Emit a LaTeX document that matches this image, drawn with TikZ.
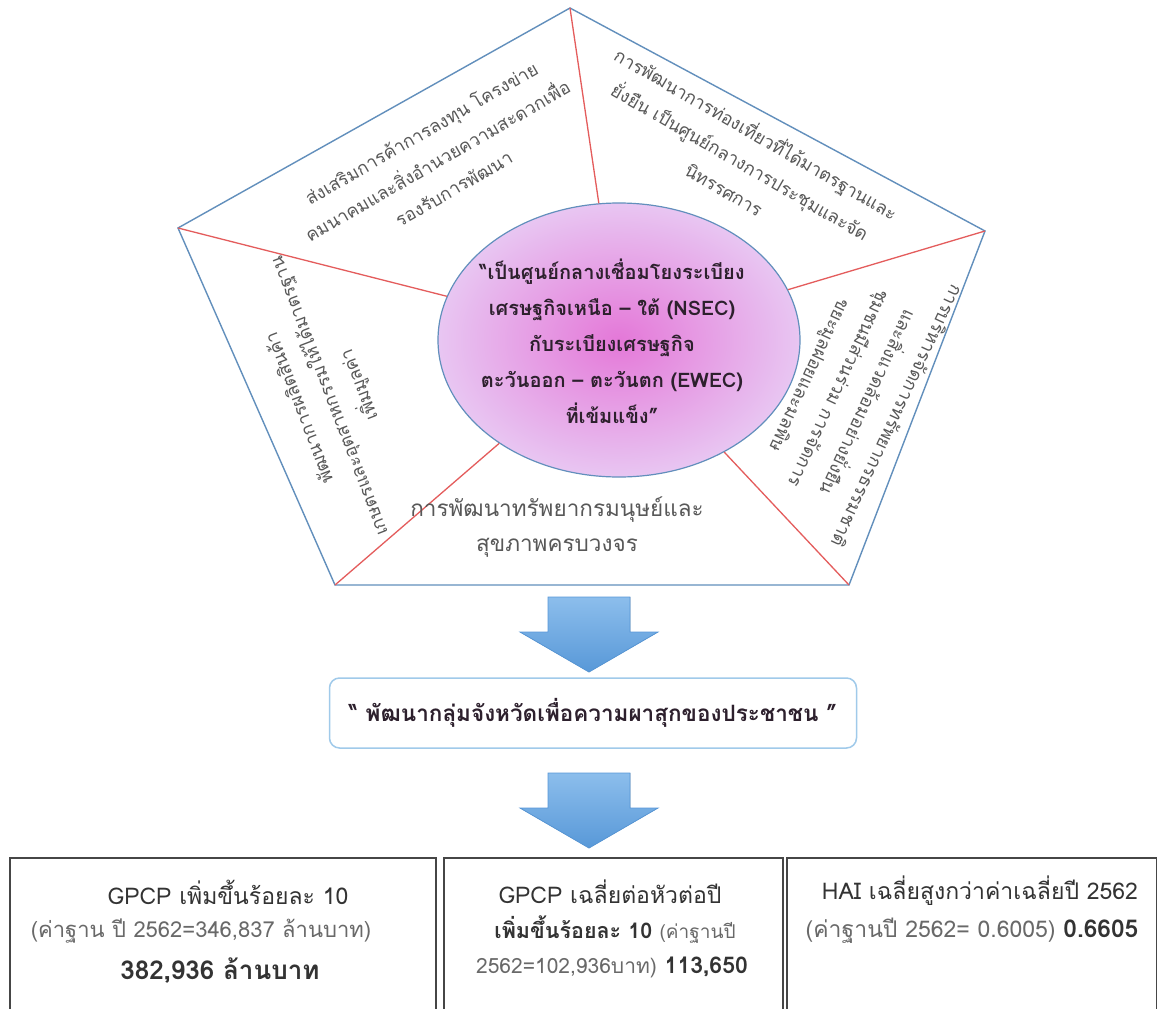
\documentclass[tikz,border=0pt]{standalone}
\usepackage{fontspec}
\setmainfont[Script=Thai]{Loma}
\usetikzlibrary{shapes.geometric}

\definecolor{rimblue}{RGB}{98,143,188}
\definecolor{spokered}{RGB}{228,92,92}
\definecolor{seggray}{RGB}{88,88,88}
\definecolor{notegray}{RGB}{105,105,105}
\definecolor{hubink}{RGB}{45,32,45}
\definecolor{hubpink}{RGB}{228,120,216}
\definecolor{hubpale}{RGB}{232,198,242}
\definecolor{arrowtop}{RGB}{140,190,236}
\definecolor{arrowbot}{RGB}{88,152,216}
\definecolor{goalblue}{RGB}{160,202,234}
\definecolor{kpiline}{RGB}{70,70,70}

\begin{document}
\begin{tikzpicture}[x=1pt,y=-1pt,
  rim/.style={draw=rimblue,line width=1.4pt},
  spoke/.style={draw=spokered,line width=1.3pt},
  hub/.style={ellipse,draw=rimblue,line width=1.2pt,inner sep=0pt,
    minimum width=362,minimum height=274,shading=radial,
    inner color=hubpink,outer color=hubpale},
  segtext/.style={text=seggray,align=center,inner sep=0pt,
    font=\fontsize{18}{32}\selectfont},
  hubtext/.style={text=hubink,align=center,inner sep=0pt,
    font=\bfseries\fontsize{20}{36}\selectfont},
  flowarrow/.style={draw=arrowbot,line width=0.8pt,top color=arrowtop,bottom color=arrowbot},
  goalbox/.style={draw=goalblue,line width=1.5pt,rounded corners=10pt,fill=white,
    minimum width=527,minimum height=70,text=hubink,font=\bfseries\fontsize{22.5}{26}\selectfont},
  kpibox/.style={draw=kpiline,line width=2.4pt,anchor=north west,minimum height=220},
  kpitext/.style={inner sep=0pt,text=black!80,font=\fontsize{23}{27}\selectfont},
  kpinote/.style={inner sep=0pt,text=notegray,font=\fontsize{22}{26}\selectfont}]
\clip (0,0) rectangle (1157,1009);
\fill[white] (0,0) rectangle (1157,1009);

% pentagon corners
\coordinate (vTop) at (570,8);
\coordinate (vRight) at (985,231);
\coordinate (vLowR) at (849,585);
\coordinate (vLowL) at (335,585);
\coordinate (vLeft) at (178,228);

\node[hub] (hub) at (619,340) {};
\draw[rim] (vTop) -- (vRight) -- (vLowR) -- (vLowL) -- (vLeft) -- cycle;
\draw[spoke] (vTop) -- (hub);
\draw[spoke] (vRight) -- (hub);
\draw[spoke] (vLowR) -- (hub);
\draw[spoke] (vLowL) -- (hub);
\draw[spoke] (vLeft) -- (hub);

\node[hubtext] (hubText) at (612,341) {“เป็นศูนย์กลางเชื่อมโยงระเบียง\\เศรษฐกิจเหนือ – ใต้ (NSEC)\\กับระเบียงเศรษฐกิจ\\ตะวันออก – ตะวันตก (EWEC)\\ที่เข้มแข็ง”};

% development issues
\node[segtext,rotate=30] (tlText) at (437,160) {ส่งเสริมการค้าการลงทุน โครงข่าย\\คมนาคมและสิ่งอำนวยความสะดวกเพื่อ\\รองรับการพัฒนา};
\node[segtext,rotate=-30] (trText) at (741,160) {การพัฒนาการท่องเที่ยวที่ได้มาตรฐานและ\\ยั่งยืน เป็นศูนย์กลางการประชุมและจัด\\นิทรรศการ};
\node[segtext,rotate=-115] (rText) at (852,395) {การบริหารจัดการทรัพยากรธรรมชาติ\\และสิ่งแวดล้อมอย่างยั่งยืน\\ชุมชนมีส่วนร่วม  การจัดการ\\ขยะมูลฝอยและมลพิษ};
\node[segtext,rotate=111] (lText) at (330,396) {พัฒนาการผลิตสินค้า\\เกษตรและอุตสาหกรรมให้ได้มาตรฐาน\\เพิ่มมูลค่า};
\node[segtext,font=\fontsize{22.5}{35}\selectfont] (bText) at (557,527) {การพัฒนาทรัพยากรมนุษย์และ\\สุขภาพครบวงจร};

% flow
\fill[flowarrow] (548,597) -- (630,597) -- (630,632) -- (658,632) -- (589,672) -- (520,632) -- (548,632) -- cycle;
\node[goalbox] (goal) at (593,713) {“ พัฒนากลุ่มจังหวัดเพื่อความผาสุกของประชาชน ”};
\fill[flowarrow] (548,773) -- (630,773) -- (630,808) -- (658,808) -- (589,848) -- (520,808) -- (548,808) -- cycle;

% targets
\node[kpibox,minimum width=426] (kpiA) at (9,857) {};
\node[kpibox,minimum width=339] (kpiB) at (443,857) {};
\node[kpibox,minimum width=370] (kpiC) at (786,857) {};

\node[kpitext] (kpiAtitle) at (228,892) {GPCP เพิ่มขึ้นร้อยละ 10};
\node[kpinote] (kpiAbase) at (201,931) {(ค่าฐาน ปี 2562=346,837 ล้านบาท)};
\node[kpitext,font=\bfseries\fontsize{26}{30}\selectfont] (kpiAvalue) at (220,971) {382,936 ล้านบาท};

\node[kpitext] (kpiBtitle) at (610,892) {GPCP เฉลี่ยต่อหัวต่อปี};
\node[kpitext] (kpiBbase) at (615,930) {\bfseries\fontsize{21.5}{26}\selectfont เพิ่มขึ้นร้อยละ 10 {\mdseries\fontsize{19}{24}\selectfont\color{notegray}(ค่าฐานปี}};
\node[kpitext] (kpiBvalue) at (612,967) {{\fontsize{21}{26}\selectfont\color{notegray}2562=102,936บาท)} \bfseries 113,650};

\node[kpitext] (kpiCtitle) at (980,891) {HAI เฉลี่ยสูงกว่าค่าเฉลี่ยปี 2562};
\node[kpitext] (kpiCbase) at (972,931) {{\fontsize{23}{27}\selectfont\color{notegray}(ค่าฐานปี 2562= 0.6005)} \bfseries\fontsize{24.5}{28}\selectfont 0.6605};
\end{tikzpicture}
\end{document}
